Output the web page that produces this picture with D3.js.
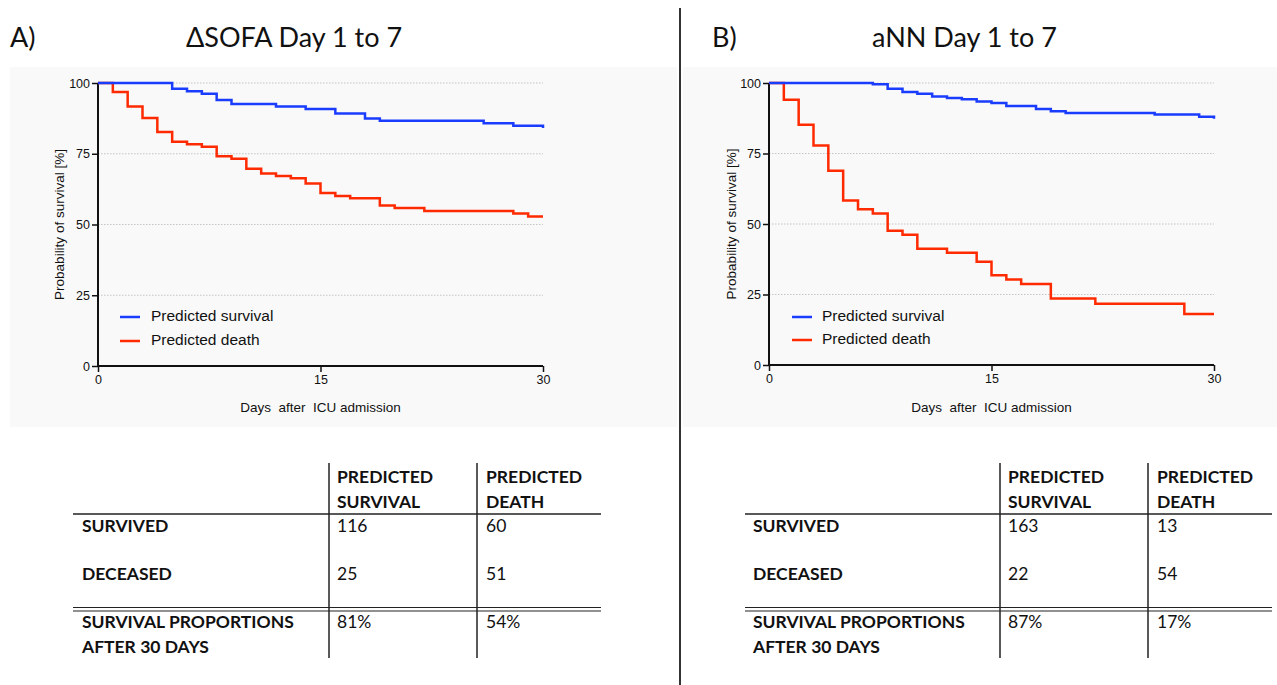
<!DOCTYPE html>
<html>
<head>
<meta charset="utf-8">
<script src="https://cdn.jsdelivr.net/npm/d3@7"></script>
<style>
  html, body { margin: 0; padding: 0; background: #fff; }
  svg { display: block; }
</style>
</head>
<body>
<svg id="chart" width="1277" height="685"></svg>
<script>
// ---------- DATA ----------
const xTicks = [0, 15, 30];
const yTicks = [0, 25, 50, 75, 100];
const seriesNames = ["Predicted survival", "Predicted death"];

// Panel A: ΔSOFA Day 1 to 7
const aSurvDays = [0, 5, 6, 7, 8, 9, 12, 14, 16, 18, 19, 26, 28, 30];
const aSurvVals = [100, 98.0, 97.1, 96.2, 94.0, 92.6, 91.7, 90.8, 89.2, 87.5, 86.7, 85.8, 84.9, 84.1];
const aDeathDays = [0, 1, 2, 3, 4, 5, 6, 7, 8, 9, 10, 11, 12, 13, 14, 15, 16, 17, 19, 20, 22, 28, 29, 30];
const aDeathVals = [100, 96.8, 91.7, 87.6, 82.7, 79.2, 78.4, 77.5, 74.1, 73.2, 69.7, 68.0, 67.1, 66.3, 64.5, 61.1, 60.1, 59.3, 56.7, 55.8, 54.8, 53.9, 52.8, 52.8];

// Panel B: aNN Day 1 to 7
const bSurvDays = [0, 7, 8, 9, 10, 11, 12, 13, 14, 15, 16, 18, 19, 20, 26, 29, 30];
const bSurvVals = [100, 99.6, 98.0, 96.8, 96.2, 95.2, 94.7, 94.2, 93.4, 92.9, 91.8, 90.8, 90.0, 89.4, 88.8, 88.0, 87.3];
const bDeathDays = [0, 1, 2, 3, 4, 5, 6, 7, 8, 9, 10, 12, 14, 15, 16, 17, 19, 22, 28, 30];
const bDeathVals = [100, 94.1, 85.2, 77.8, 68.9, 58.3, 55.2, 53.7, 47.6, 46.2, 41.2, 39.8, 36.6, 31.8, 30.3, 28.7, 23.6, 21.7, 18.1, 18.1];

// Tables
const colHeaders = [["PREDICTED", "SURVIVAL"], ["PREDICTED", "DEATH"]];
const rowLabels = ["SURVIVED", "DECEASED"];
const propLabel = ["SURVIVAL PROPORTIONS", "AFTER 30 DAYS"];
const aCounts = [[116, 60], [25, 51]];
const aProps = ["81%", "54%"];
const bCounts = [[163, 13], [22, 54]];
const bProps = ["87%", "17%"];

// ---------- DRAW ----------
const svg = d3.select("#chart");
const BLUE = "#1a3cff", RED = "#ff2a00";
const titleFont = "Lato, 'Open Sans', sans-serif";
const axisFont = "'Liberation Sans', Arial, sans-serif";

svg.append("rect").attr("width", 1277).attr("height", 685).attr("fill", "#fff");

const panels = [
  { letter: "A)", title: "\u0394SOFA Day 1 to 7", letterX: 10, titleX: 186,
    bg: [10, 67, 667, 360], xr: [98, 543], yr: [366, 83], ylabX: 60,
    legX: 120, legTextX: 151, legY: [317, 341],
    surv: [aSurvDays, aSurvVals], death: [aDeathDays, aDeathVals],
    table: { x0: 73, x1: 601, c1: 329, c2: 477, lab: 82, counts: aCounts, props: aProps } },
  { letter: "B)", title: "aNN Day 1 to 7", letterX: 712, titleX: 872,
    bg: [683, 67, 594, 360], xr: [769, 1214], yr: [365, 83], ylabX: 732,
    legX: 792, legTextX: 822, legY: [317, 340],
    surv: [bSurvDays, bSurvVals], death: [bDeathDays, bDeathVals],
    table: { x0: 745, x1: 1272, c1: 1000, c2: 1148, lab: 753, counts: bCounts, props: bProps } }
];

panels.forEach(p => {
  // background
  svg.append("rect").attr("x", p.bg[0]).attr("y", p.bg[1]).attr("width", p.bg[2]).attr("height", p.bg[3])
    .attr("fill", "#f9f9f9");
  // titles
  svg.append("text").attr("x", p.letterX).attr("y", 47).attr("font-family", titleFont)
    .attr("font-size", 27).attr("fill", "#111").text(p.letter);
  svg.append("text").attr("x", p.titleX).attr("y", 47).attr("font-family", titleFont)
    .attr("font-size", 27).attr("fill", "#111").text(p.title);

  const x = d3.scaleLinear().domain([0, 30]).range(p.xr);
  const y = d3.scaleLinear().domain([0, 100]).range(p.yr);
  const g = svg.append("g");

  // grid
  g.selectAll(".grid").data(yTicks.filter(t => t > 0)).join("line")
    .attr("x1", p.xr[0]).attr("x2", p.xr[1]).attr("y1", d => y(d)).attr("y2", d => y(d))
    .attr("stroke", "#b8b8b8").attr("stroke-width", 0.8).attr("stroke-dasharray", "1.5,1.5");

  // axes
  const yAxis = d3.axisLeft(y).tickValues(yTicks).tickSize(6).tickPadding(2);
  const xAxis = d3.axisBottom(x).tickValues(xTicks).tickSize(6).tickPadding(3);
  const ya = g.append("g").attr("transform", `translate(${p.xr[0]},0)`).call(yAxis);
  const xa = g.append("g").attr("transform", `translate(0,${p.yr[0]})`).call(xAxis);
  [ya, xa].forEach(a => {
    a.select(".domain").attr("stroke", "#111").attr("stroke-width", 2);
    a.selectAll(".tick line").attr("stroke", "#111").attr("stroke-width", 1.5);
    a.selectAll(".tick text").attr("font-family", axisFont).attr("font-size", 12.5).attr("fill", "#111");
  });
  ya.select(".domain").attr("d", `M0,${p.yr[1]}V${p.yr[0]}`);
  xa.select(".domain").attr("d", `M${p.xr[0]},0H${p.xr[1]}`);

  // axis labels
  svg.append("text").attr("transform", `translate(${p.ylabX},${(p.yr[0] + p.yr[1]) / 2}) rotate(-90)`)
    .attr("text-anchor", "middle").attr("dominant-baseline", "middle")
    .attr("font-family", axisFont).attr("font-size", 13.5).attr("fill", "#111")
    .text("Probability of survival [%]");
  svg.append("text").attr("x", (p.xr[0] + p.xr[1]) / 2).attr("y", 412)
    .attr("text-anchor", "middle").attr("font-family", axisFont).attr("font-size", 13.5)
    .attr("fill", "#111").attr("xml:space", "preserve").style("white-space", "pre")
    .text("Days  after  ICU admission");

  // curves
  const line = d3.line().x(d => x(d[0])).y(d => y(d[1])).curve(d3.curveStepAfter);
  [[p.death, RED], [p.surv, BLUE]].forEach(([s, c]) => {
    const pts = s[0].map((d, i) => [d, s[1][i]]);
    g.append("path").datum(pts).attr("d", line).attr("fill", "none")
      .attr("stroke", c).attr("stroke-width", 2.5);
  });

  // legend
  [BLUE, RED].forEach((c, i) => {
    svg.append("line").attr("x1", p.legX).attr("x2", p.legX + 20)
      .attr("y1", p.legY[i]).attr("y2", p.legY[i]).attr("stroke", c).attr("stroke-width", 2.5);
    svg.append("text").attr("x", p.legTextX).attr("y", p.legY[i]).attr("dominant-baseline", "middle")
      .attr("font-family", axisFont).attr("font-size", 15.5).attr("fill", "#111").text(seriesNames[i]);
  });

  // table
  const t = p.table;
  const tg = svg.append("g").attr("font-family", titleFont).attr("font-size", 17.5).attr("fill", "#111");
  const cols = [t.c1 + 8, t.c2 + 9];
  colHeaders.forEach((h, j) => {
    h.forEach((s, k) => tg.append("text").attr("x", cols[j]).attr("y", 483 + k * 25)
      .attr("font-weight", "bold").text(s));
  });
  rowLabels.forEach((r, i) => {
    const yy = 532 + i * 48;
    tg.append("text").attr("x", t.lab).attr("y", yy).attr("font-weight", "bold").text(r);
    t.counts[i].forEach((v, j) => tg.append("text").attr("x", cols[j]).attr("y", yy).text(v));
  });
  propLabel.forEach((s, k) => tg.append("text").attr("x", t.lab).attr("y", 628 + k * 25)
    .attr("font-weight", "bold").text(s));
  t.props.forEach((v, j) => tg.append("text").attr("x", cols[j]).attr("y", 628).text(v));

  const lc = "#222";
  svg.append("line").attr("x1", t.x0).attr("x2", t.x1).attr("y1", 514).attr("y2", 514)
    .attr("stroke", lc).attr("stroke-width", 1.5);
  [607.5, 611].forEach(yy => svg.append("line").attr("x1", t.x0).attr("x2", t.x1)
    .attr("y1", yy).attr("y2", yy).attr("stroke", lc).attr("stroke-width", 1));
  [t.c1, t.c2].forEach(xx => svg.append("line").attr("x1", xx).attr("x2", xx)
    .attr("y1", 463).attr("y2", 658).attr("stroke", lc).attr("stroke-width", 1.5));
});

// divider
svg.append("line").attr("x1", 680).attr("x2", 680).attr("y1", 8).attr("y2", 685)
  .attr("stroke", "#333").attr("stroke-width", 2);
</script>
</body>
</html>
